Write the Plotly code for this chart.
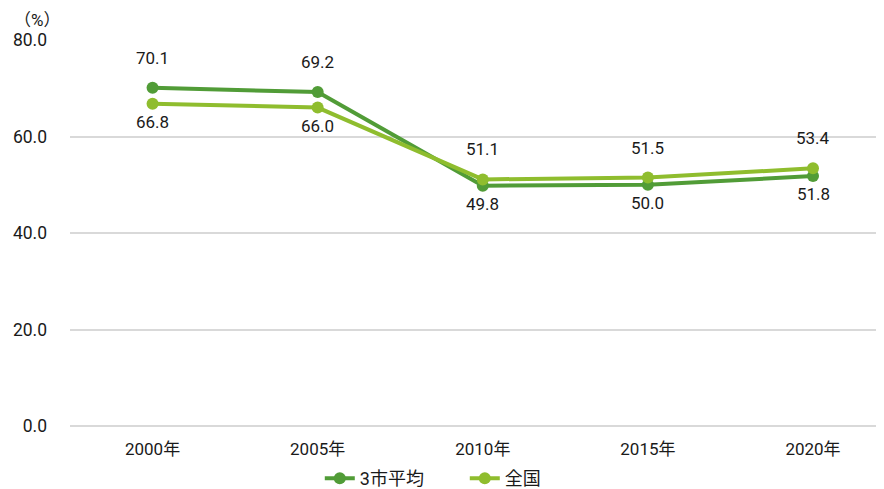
import plotly.graph_objects as go

years = ["2000年", "2005年", "2010年", "2015年", "2020年"]
city3 = [70.1, 69.2, 49.8, 50.0, 51.8]
national = [66.8, 66.0, 51.1, 51.5, 53.4]
city3_pos = ["above", "above", "below", "below", "below"]
national_pos = ["below", "below", "above", "above", "above"]
yticks = [0, 20, 40, 60, 80]

FONT = "Roboto, Noto Sans CJK JP, sans-serif"
C1 = "#519c37"
C2 = "#8fbd2e"

fig = go.Figure()
fig.add_trace(go.Scatter(x=years, y=city3, name="3市平均", mode="lines+markers",
                         line=dict(color=C1, width=4), marker=dict(size=12, color=C1)))
fig.add_trace(go.Scatter(x=years, y=national, name="全国", mode="lines+markers",
                         line=dict(color=C2, width=4), marker=dict(size=12, color=C2)))

anns = []
for vals, pos in ((city3, city3_pos), (national, national_pos)):
    for x, v, p in zip(years, vals, pos):
        anns.append(dict(x=x, y=v, text=f"{v:.1f}", showarrow=False,
                         yshift=30 if p == "above" else -18,
                         font=dict(size=17, color="#1a1a1a", family=FONT)))
anns.append(dict(xref="paper", yref="paper", x=-0.04, y=1.0, yshift=32, xanchor="center",
                 text="（%）", showarrow=False, font=dict(size=17, color="#1a1a1a", family=FONT)))

# page body has an 8px margin; figure offset accordingly
fig.update_layout(
    width=876, height=489,
    margin=dict(l=62, r=0, t=32, b=71),
    paper_bgcolor="white", plot_bgcolor="white",
    font=dict(family=FONT, size=15, color="#1a1a1a"),
    annotations=anns,
    showlegend=True,
    legend=dict(orientation="h", x=0.485, xanchor="center", y=-0.184, yanchor="bottom",
                entrywidth=100, entrywidthmode="pixels",
                font=dict(size=18, color="#1a1a1a", family=FONT)),
    xaxis=dict(range=[-0.5, 4.43], showgrid=False, ticks="", showline=False, automargin=False,
               tickfont=dict(size=17, color="#1a1a1a"), ticklabelstandoff=11),
    yaxis=dict(range=[0, 80], tickvals=yticks, ticktext=[f"{t:.1f}" for t in yticks],
               showgrid=True, gridcolor="#d9d9d9", gridwidth=1.5, zeroline=True,
               zerolinecolor="#d9d9d9", zerolinewidth=1.5, ticks="", automargin=False,
               tickfont=dict(size=17.5, color="#1a1a1a"), ticklabelstandoff=22),
)
fig.write_html("out.html")
